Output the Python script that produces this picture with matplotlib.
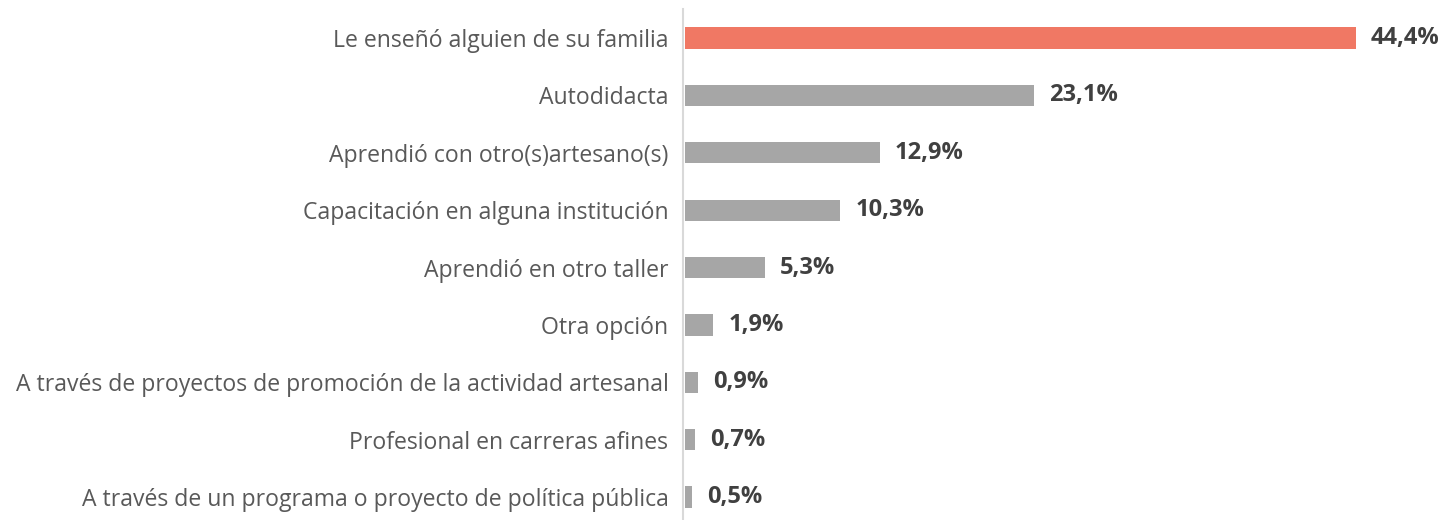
import matplotlib
matplotlib.use("Agg")
import matplotlib.pyplot as plt

categories = [
    "Le enseñó alguien de su familia",
    "Autodidacta",
    "Aprendió con otro(s)artesano(s)",
    "Capacitación en alguna institución",
    "Aprendió en otro taller",
    "Otra opción",
    "A través de proyectos de promoción de la actividad artesanal",
    "Profesional en carreras afines",
    "A través de un programa o proyecto de política pública",
]
values = [44.4, 23.1, 12.9, 10.3, 5.3, 1.9, 0.9, 0.7, 0.5]
labels = ["44,4%", "23,1%", "12,9%", "10,3%", "5,3%", "1,9%", "0,9%", "0,7%", "0,5%"]
highlight_color = "#F07864"
base_color = "#A6A6A6"

plt.rcParams['font.family'] = ['Open Sans', 'DejaVu Sans']

W, H = 1443, 520
fig = plt.figure(figsize=(W / 100, H / 100), dpi=100)
left = 683 / W
right = 1439 / W
top_px, bot_px = 9, 520
ax = fig.add_axes([left, 1 - bot_px / H, right - left, (bot_px - top_px) / H])

ypos = list(range(len(categories)))
colors = [highlight_color] + [base_color] * (len(categories) - 1)
ax.barh(ypos, values, height=0.37, color=colors, left=0.1)
ax.set_xlim(0, 50)
ax.set_ylim(8.40, -0.505)

for y, v, t in zip(ypos, values, labels):
    ax.annotate(t, xy=(v + 0.1, y), xytext=(11, 0), textcoords="offset points",
                va="center", ha="left", fontsize=17, fontweight="bold", color="#404040")

ax.set_yticks(ypos)
ax.set_yticklabels(categories, fontsize=16.6, color="#595959")
ax.tick_params(axis="y", length=0, pad=10.5)
ax.set_xticks([])
for s in ["top", "right", "bottom"]:
    ax.spines[s].set_visible(False)
ax.spines["left"].set_color("#D9D9D9")
ax.spines["left"].set_linewidth(1.5)

fig.savefig("out.png", dpi=100)
